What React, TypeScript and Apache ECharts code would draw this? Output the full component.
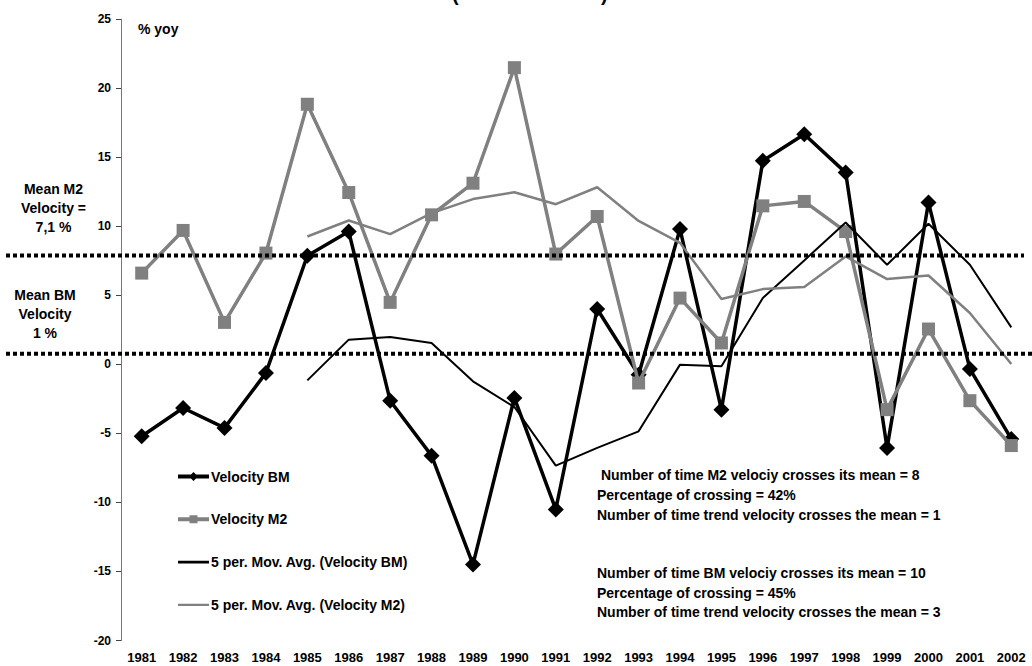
import React, { useEffect, useRef } from "react";
import * as echarts from "echarts";

const years = ["1981","1982","1983","1984","1985","1986","1987","1988","1989","1990","1991","1992","1993","1994","1995","1996","1997","1998","1999","2000","2001","2002"];
const velocityBM = [-5.21,-3.16,-4.6,-0.62,7.87,9.62,-2.63,-6.61,-14.49,-2.43,-10.51,4.01,-0.75,9.8,-3.28,14.74,16.67,13.89,-6.05,11.72,-0.33,-5.4];
const velocityM2 = [6.61,9.7,3.04,8.06,18.84,12.45,4.49,10.83,13.12,21.49,7.99,10.71,-1.35,4.8,1.55,11.48,11.8,9.62,-3.28,2.56,-2.63,-5.88];
const maBM = [null,null,null,null,-1.16,1.79,1.98,1.55,-1.23,-3.09,-7.33,-6.05,-4.85,-0.02,-0.14,4.8,7.53,10.28,7.21,10.18,7.21,2.68];
const maM2 = [null,null,null,null,9.26,10.42,9.43,10.95,11.97,12.47,11.6,12.83,10.39,8.8,4.73,5.45,5.6,7.82,6.18,6.44,3.72,0.03];
const seriesNames = ["Velocity BM","Velocity M2","5 per. Mov. Avg. (Velocity BM)","5 per. Mov. Avg. (Velocity M2)"];
const meanLineValues = [7.88, 0.77];
const meanM2Label = "Mean M2\nVelocity =\n7,1 %";
const meanBMLabel = "Mean BM\nVelocity\n1 %";
const statsM2 = [" Number of time M2 velociy crosses its mean = 8","Percentage of crossing = 42%","Number of time trend velocity crosses the mean = 1"];
const statsBM = ["Number of time BM velociy crosses its mean = 10","Percentage of crossing = 45%","Number of time trend velocity crosses the mean = 3"];
const unitLabel = "% yoy";

const FONT = "Liberation Sans, Arial, Helvetica, sans-serif";
const GREY = "#808080";

const CORNERS = "M0,0h0.01v0.01z M31,14h-0.01v-0.01z ";
const ICON_BM = "path://" + CORNERS + "M0,5h31v4h-31z M15.5,2.5L20,7L15.5,11.5L11,7Z";
const ICON_M2 = "path://" + CORNERS + "M0,5h31v4h-31z M11.5,3h8v8h-8z";
const ICON_MA_BM = "path://" + CORNERS + "M0,5.7h31v2.6h-31z";
const ICON_MA_M2 = "path://" + CORNERS + "M0,5.9h31v2.2h-31z";

function txt(text: string, x: number, y: number, align: string, size = 14, lh = 19) {
  return {
    type: "text",
    x,
    y,
    z: 100,
    style: {
      text,
      font: `bold ${size}px ${FONT}`,
      fill: "#000",
      align,
      verticalAlign: "middle",
      textAlign: align,
      textVerticalAlign: "middle",
      lineHeight: lh,
    },
  };
}

export default function App() {
  const ref = useRef<HTMLDivElement>(null);
  useEffect(() => {
    const chart = echarts.init(ref.current as HTMLDivElement, null, { renderer: "svg" });
    chart.setOption({
      animation: false,
      backgroundColor: "#fff",
      textStyle: { fontFamily: FONT },
      grid: { left: 121, top: 19.2, right: -7.7, bottom: 25.5, containLabel: false },
      legend: {
        data: [
          { name: seriesNames[0], icon: ICON_BM },
          { name: seriesNames[1], icon: ICON_M2 },
          { name: seriesNames[2], icon: ICON_MA_BM },
          { name: seriesNames[3], icon: ICON_MA_M2 },
        ],
        orient: "vertical",
        left: 173,
        top: 464.5,
        itemWidth: 31,
        itemHeight: 14,
        itemGap: 28.8,
        textStyle: { fontFamily: FONT, fontWeight: "bold", fontSize: 14, color: "#000", padding: [0, 0, 0, -3] },
      },
      xAxis: {
        type: "category",
        data: years,
        boundaryGap: true,
        axisLine: { show: false, onZero: false },
        axisTick: { show: false },
        splitLine: { show: false },
        axisLabel: { interval: 0, margin: 10, fontFamily: FONT, fontWeight: "bold", fontSize: 13, color: "#000" },
      },
      yAxis: {
        type: "value",
        min: -20,
        max: 25,
        interval: 5,
        axisLine: { show: true, lineStyle: { color: "#777", width: 1 } },
        axisTick: { show: true, inside: false, length: 5, lineStyle: { color: "#444" } },
        splitLine: { show: false },
        axisLabel: { margin: 10, fontFamily: FONT, fontWeight: "bold", fontSize: 12, color: "#000" },
      },
      series: [
        {
          name: seriesNames[0],
          type: "line",
          data: velocityBM,
          symbol: "diamond",
          symbolSize: 16,
          showAllSymbol: true,
          itemStyle: { color: "#000" },
          lineStyle: { color: "#000", width: 3.5 },
          z: 3,
        },
        {
          name: seriesNames[1],
          type: "line",
          data: velocityM2,
          symbol: "rect",
          symbolSize: 13,
          showAllSymbol: true,
          itemStyle: { color: GREY },
          lineStyle: { color: GREY, width: 3.5 },
          z: 4,
        },
        {
          name: seriesNames[2],
          type: "line",
          data: maBM,
          symbol: "none",
          itemStyle: { color: "#000" },
          lineStyle: { color: "#000", width: 2 },
          z: 5,
        },
        {
          name: seriesNames[3],
          type: "line",
          data: maM2,
          symbol: "none",
          itemStyle: { color: GREY },
          lineStyle: { color: GREY, width: 2.5 },
          z: 5,
        },
      ],
    });
    const yTop = chart.convertToPixel({ yAxisIndex: 0 }, meanLineValues[0]) as number;
    const yBot = chart.convertToPixel({ yAxisIndex: 0 }, meanLineValues[1]) as number;
    const dotted = { stroke: "#000", lineWidth: 4, lineDash: [4, 3] };
    chart.setOption({
      graphic: [
        { type: "line", z: 50, shape: { x1: 6, y1: yTop, x2: 1024, y2: yTop }, style: dotted },
        { type: "line", z: 50, shape: { x1: 6, y1: yBot, x2: 1032, y2: yBot }, style: dotted },
        txt(unitLabel, 138, 29, "left"),
        txt(meanM2Label, 53.5, 208.3, "center", 14, 19),
        txt(meanBMLabel, 45, 314, "center", 14, 19),
        txt(statsM2.join("\n"), 597, 495, "left", 14, 20),
        txt(statsBM.join("\n"), 597, 592.8, "left", 14, 19.5),
        { type: "text", x: 452, y: -16, z: 100, style: { text: "(", font: `bold 20px ${FONT}`, fill: "#000" } },
        { type: "text", x: 601, y: -16, z: 100, style: { text: ")", font: `bold 20px ${FONT}`, fill: "#000" } },
      ],
    });
    return () => chart.dispose();
  }, []);
  return (
    <div
      ref={ref}
      style={{ position: "fixed", left: 0, top: 0, width: 1032, height: 666, background: "#fff" }}
    />
  );
}
